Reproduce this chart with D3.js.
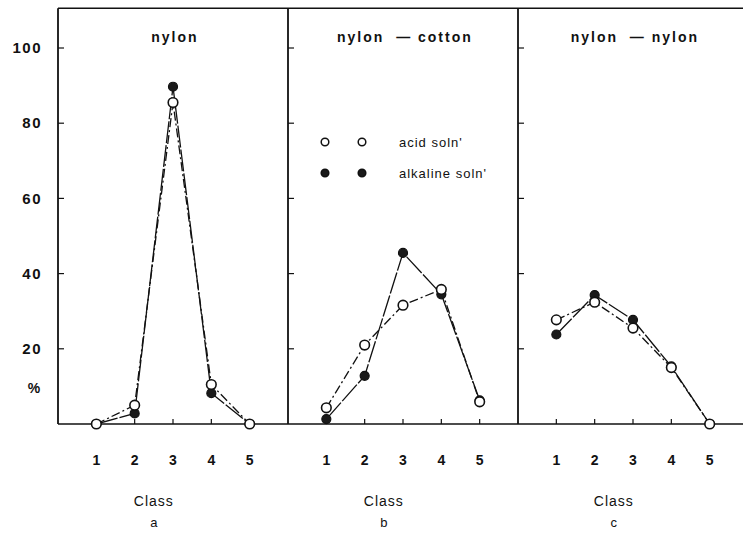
<!DOCTYPE html>
<html>
<head>
<meta charset="utf-8">
<script src="https://cdn.jsdelivr.net/npm/d3@7"></script>
<style>
  body { margin: 0; background: #fff; }
  svg { display: block; }
  text { fill: #111; font-family: "Liberation Sans", Arial, sans-serif; }
</style>
</head>
<body>
<div class="chart"></div>
<script>
// three panels of class distributions, acid vs alkaline solution

var classes = [1, 2, 3, 4, 5];
var panelTitles = ['nylon', 'nylon  \u2014 cotton', 'nylon  \u2014 nylon'];
var panelLetters = ['a', 'b', 'c'];
var yTicks = [20, 40, 60, 80, 100];

// % per class
var acidNylon = [0, 5, 85.5, 10.5, 0];
var alkNylon = [0, 2.8, 89.7, 8.2, 0];
var acidCotton = [4.3, 21, 31.6, 35.8, 5.9];
var alkCotton = [1.3, 12.8, 45.5, 34.5, 6.3];
var acidNylonNylon = [27.7, 32.4, 25.5, 15, 0];
var alkNylonNylon = [23.8, 34.3, 27.7, 15.3, 0];

var acidSeries = [acidNylon, acidCotton, acidNylonNylon];
var alkSeries = [alkNylon, alkCotton, alkNylonNylon];

var width = 743, height = 535;

var svg = d3.select('.chart').append('svg')
  .attr('width', width)
  .attr('height', height);

// panel i starts at panelX(i), each panel holds class 0..6
var panelX = d3.scaleLinear().domain([0, 3]).range([58, 748]);
var yScale = d3.scaleLinear().domain([0, 100]).range([424, 48]);
var yTop = yScale(110.6);

// frame: top and bottom lines across all panels
svg.append('line')
  .attr('x1', panelX(0)).attr('x2', width)
  .attr('y1', yTop).attr('y2', yTop)
  .attr('stroke', '#111').attr('stroke-width', 1.5);
svg.append('line')
  .attr('x1', panelX(0)).attr('x2', width)
  .attr('y1', yScale(0)).attr('y2', yScale(0))
  .attr('stroke', '#111').attr('stroke-width', 1.5);

// y tick labels on the far left
svg.selectAll('.ylab')
  .data(yTicks)
  .enter()
  .append('text')
    .attr('class', 'ylab')
    .attr('x', 42)
    .attr('y', function(d) { return yScale(d); })
    .attr('dy', '0.35em')
    .attr('text-anchor', 'end')
    .attr('font-size', 15)
    .attr('font-weight', 'bold')
    .attr('letter-spacing', 1.5)
    .text(function(d) { return d; });

svg.append('text')
  .attr('x', 34)
  .attr('y', yScale(9.5))
  .attr('dy', '0.35em')
  .attr('text-anchor', 'middle')
  .attr('font-size', 14)
  .attr('font-weight', 'bold')
  .text('%');

var line = d3.line()
  .x(function(d) { return d.x; })
  .y(function(d) { return yScale(d.v); });

for (var p = 0; p < 3; p++) {
  var left = panelX(p);
  var xScale = d3.scaleLinear().domain([0, 6]).range([left, panelX(p + 1)]);
  var g = svg.append('g');

  // vertical axis of the panel
  g.append('line')
    .attr('x1', left).attr('x2', left)
    .attr('y1', yTop).attr('y2', yScale(0))
    .attr('stroke', '#111').attr('stroke-width', 1.8);

  // inward ticks
  g.selectAll('.yt')
    .data(yTicks)
    .enter()
    .append('line')
      .attr('x1', left).attr('x2', left + 6)
      .attr('y1', function(d) { return yScale(d); })
      .attr('y2', function(d) { return yScale(d); })
      .attr('stroke', '#111').attr('stroke-width', 1.2);

  // class ticks on the baseline
  g.selectAll('.xt')
    .data(classes)
    .enter()
    .append('line')
      .attr('x1', function(d) { return xScale(d); })
      .attr('x2', function(d) { return xScale(d); })
      .attr('y1', yScale(0)).attr('y2', yScale(0) - 5)
      .attr('stroke', '#111').attr('stroke-width', 1.2);

  g.selectAll('.xl')
    .data(classes)
    .enter()
    .append('text')
      .attr('x', function(d) { return xScale(d); })
      .attr('y', 460)
      .attr('dy', '0.35em')
      .attr('text-anchor', 'middle')
      .attr('font-size', 14)
      .attr('font-weight', 'bold')
      .text(function(d) { return d; });

  g.append('text')
    .attr('x', xScale(2.5))
    .attr('y', 501)
    .attr('dy', '0.35em')
    .attr('text-anchor', 'middle')
    .attr('font-size', 14)
    .attr('letter-spacing', 1)
    .text('Class');

  g.append('text')
    .attr('x', xScale(2.5))
    .attr('y', 522)
    .attr('dy', '0.35em')
    .attr('text-anchor', 'middle')
    .attr('font-size', 13)
    .text(panelLetters[p]);

  g.append('text')
    .attr('x', xScale(3.05))
    .attr('y', 37)
    .attr('dy', '0.35em')
    .attr('text-anchor', 'middle')
    .attr('font-size', 14)
    .attr('font-weight', 'bold')
    .attr('letter-spacing', 2)
    .style('white-space', 'pre')
    .text(panelTitles[p]);

  var acidPts = classes.map(function(c, i) { return { x: xScale(c), v: acidSeries[p][i] }; });
  var alkPts = classes.map(function(c, i) { return { x: xScale(c), v: alkSeries[p][i] }; });

  g.append('path')
    .attr('d', line(alkPts))
    .attr('fill', 'none')
    .attr('stroke', '#111')
    .attr('stroke-width', 1.3)
    .attr('stroke-dasharray', '22,2');

  g.append('path')
    .attr('d', line(acidPts))
    .attr('fill', 'none')
    .attr('stroke', '#111')
    .attr('stroke-width', 1.3)
    .attr('stroke-dasharray', '9,3,2,3');

  g.selectAll('.alk')
    .data(alkPts)
    .enter()
    .append('circle')
      .attr('cx', function(d) { return d.x; })
      .attr('cy', function(d) { return yScale(d.v); })
      .attr('r', 4.5)
      .attr('fill', '#1a1a1a')
      .attr('stroke', '#111')
      .attr('stroke-width', 1.2);

  g.selectAll('.acid')
    .data(acidPts)
    .enter()
    .append('circle')
      .attr('cx', function(d) { return d.x; })
      .attr('cy', function(d) { return yScale(d.v); })
      .attr('r', 4.8)
      .attr('fill', '#fff')
      .attr('stroke', '#111')
      .attr('stroke-width', 1.6);
}

// legend inside panel b
var legendItems = [
  { label: "acid soln'", fill: '#fff', y: 142 },
  { label: "alkaline soln'", fill: '#1a1a1a', y: 173 }
];
var legend = svg.selectAll('.legend')
  .data(legendItems)
  .enter()
  .append('g');

[325, 362].forEach(function(cx) {
  legend.append('circle')
    .attr('cx', cx)
    .attr('cy', function(d) { return d.y; })
    .attr('r', 3.8)
    .attr('fill', function(d) { return d.fill; })
    .attr('stroke', '#111')
    .attr('stroke-width', 1.5);
});

legend.append('text')
  .attr('x', 399)
  .attr('y', function(d) { return d.y; })
  .attr('dy', '0.35em')
  .attr('font-size', 13)
  .attr('letter-spacing', 1)
  .text(function(d) { return d.label; });
</script>
</body>
</html>
